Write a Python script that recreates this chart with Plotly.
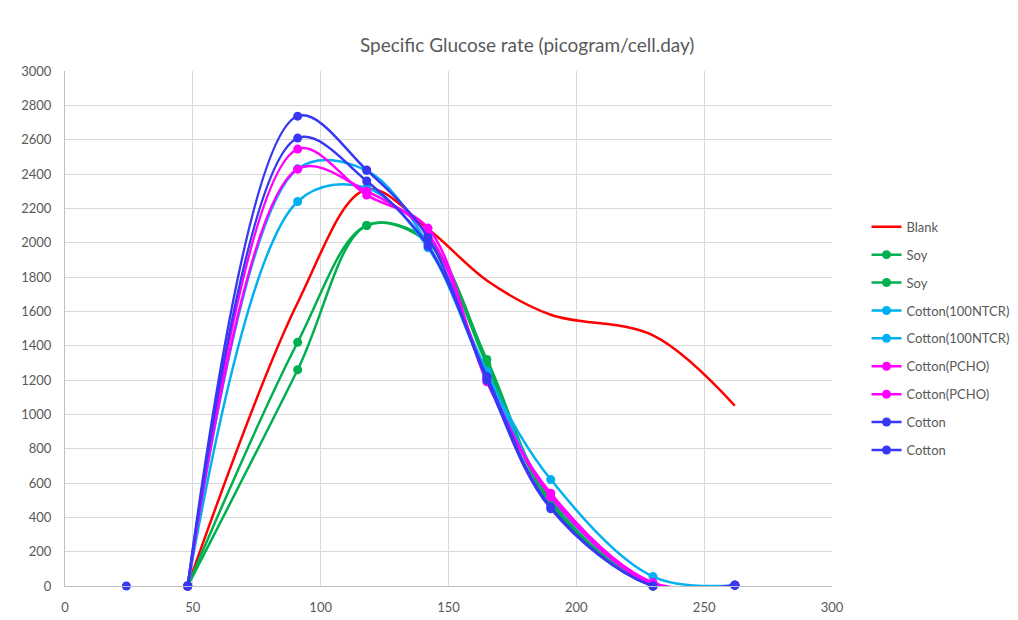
import plotly.graph_objs as go

# hours
x_blank = [48, 91, 118, 142, 165, 190, 230, 262]
x_main = [48, 91, 118, 142, 165, 190, 230, 262]
x_start = [24]  # lone point at 24 h

blank = [0, 1650, 2310, 2080, 1780, 1580, 1460, 1050]
soy_1 = [0, 1420, 2100, 2010, 1320, 500, 0, 5]
soy_2 = [0, 1260, 2100, 2000, 1290, 480, 0, 5]
ntcr_1 = [0, 2240, 2320, 1970, 1230, 620, 55, 5]
ntcr_2 = [0, 2430, 2420, 1990, 1250, 520, 10, 5]
pcho_1 = [0, 2545, 2277, 2085, 1190, 540, 20, 5]
pcho_2 = [0, 2428, 2300, 2050, 1210, 520, 10, 5]
cotton_1 = [0, 2737, 2423, 2030, 1200, 450, 0, 5]
cotton_2 = [0, 2609, 2359, 1980, 1220, 460, 0, 5]
cotton_start = [0]

series = [
    ("Blank", x_blank, blank, "#FF0000", False),
    ("Soy", x_main, soy_1, "#00B050", True),
    ("Soy", x_main, soy_2, "#00B050", True),
    ("Cotton(100NTCR)", x_main, ntcr_1, "#00B0F0", True),
    ("Cotton(100NTCR)", x_main, ntcr_2, "#00B0F0", True),
    ("Cotton(PCHO)", x_main, pcho_1, "#FF00FF", True),
    ("Cotton(PCHO)", x_main, pcho_2, "#FF00FF", True),
    ("Cotton", x_main, cotton_1, "#3737F5", True),
    ("Cotton", x_main, cotton_2, "#3737F5", True),
]

fig = go.Figure()
for i, (name, xs, ys, col, mk) in enumerate(series):
    fig.add_trace(go.Scatter(
        x=xs, y=ys, name=name, legendgroup="g%d" % i,
        mode="lines+markers" if mk else "lines",
        line=dict(color=col, width=2.5, shape="spline", smoothing=1.0),
        marker=dict(size=9, color=col),
        cliponaxis=False,
    ))

fig.add_trace(go.Scatter(x=x_start, y=cotton_start, mode="markers",
                         marker=dict(size=9, color="#3737F5"),
                         showlegend=False, cliponaxis=False))

grid = "#D9D9D9"
fig.update_xaxes(range=[0, 300], dtick=50, showgrid=True, gridcolor=grid,
                 zeroline=False, showline=True, linecolor="#BFBFBF",
                 tickfont=dict(size=13, color="#595959"), ticks="",
                 ticklabelstandoff=9)
fig.update_yaxes(range=[0, 3000], dtick=200, showgrid=True, gridcolor=grid,
                 zeroline=False, showline=True, linecolor="#BFBFBF",
                 tickfont=dict(size=13, color="#595959"), ticks="",
                 ticklabelstandoff=10)

fig.update_layout(
    width=1018, height=620,
    font=dict(family="Lato, Liberation Sans, sans-serif", color="#595959"),
    title=dict(text="Specific Glucose rate (picogram/cell.day)", x=0.51, y=0.95,
               xanchor="center", font=dict(size=19, color="#595959")),
    plot_bgcolor="white", paper_bgcolor="white",
    margin=dict(l=57, r=187, t=63, b=42),
    legend=dict(x=1.045, y=0.48, xanchor="left", yanchor="middle",
                font=dict(size=13, color="#595959"), tracegroupgap=8,
                itemwidth=30),
)

fig.write_html("out.html")
